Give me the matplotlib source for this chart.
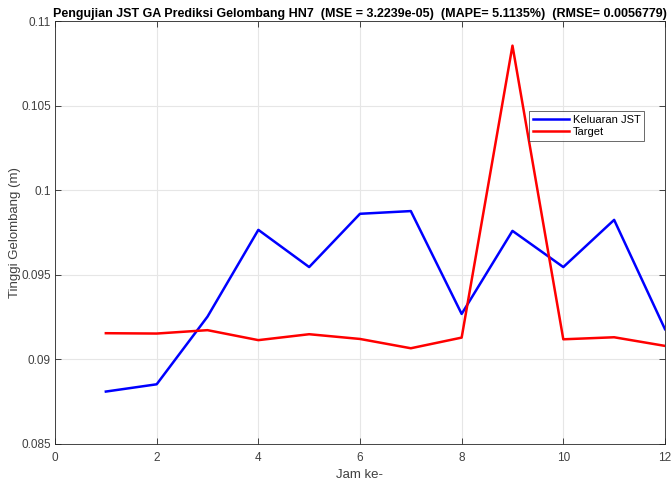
import matplotlib
matplotlib.use("Agg")
import matplotlib.pyplot as plt

plt.rcParams["font.family"] = ["Liberation Sans", "DejaVu Sans"]

jam = [1, 2, 3, 4, 5, 6, 7, 8, 9, 10, 11, 12]
keluaran_jst = [0.0881, 0.08853, 0.09253, 0.09766, 0.09546, 0.09861,
                0.09877, 0.09269, 0.0976, 0.09546, 0.09825, 0.09179]
target = [0.09155, 0.09153, 0.09173, 0.09114, 0.09149, 0.09121,
          0.09066, 0.09129, 0.10855, 0.09119, 0.09131, 0.0908]

xticks = [0, 2, 4, 6, 8, 10, 12]
yticks = [0.085, 0.09, 0.095, 0.1, 0.105, 0.11]
ytick_labels = ["0.085", "0.09", "0.095", "0.1", "0.105", "0.11"]

title = ("Pengujian JST GA Prediksi Gelombang HN7  (MSE = 3.2239e-05)  "
         "(MAPE= 5.1135%)  (RMSE= 0.0056779)")

fig = plt.figure(figsize=(6.71, 4.8), dpi=100)
ax = fig.add_axes([0.082, 0.075, 0.909, 0.881])

ax.plot(jam, keluaran_jst, color="#0000ff", linewidth=1.8, label="Keluaran JST")
ax.plot(jam, target, color="#ff0000", linewidth=1.8, label="Target")

ax.set_xlim(0, 12)
ax.set_ylim(0.085, 0.11)
ax.set_xticks(xticks)
ax.set_yticks(yticks)
ax.set_yticklabels(ytick_labels)
ax.grid(True, color="#e6e6e6", linewidth=0.8)
ax.set_axisbelow(True)

edge = "#262626"
text_col = "#404040"
for side in ax.spines.values():
    side.set_color(edge)
    side.set_linewidth(0.6)
ax.tick_params(axis="both", which="both", direction="in", length=4,
               width=0.6, colors=edge, labelcolor=text_col, labelsize=8.5,
               top=True, right=True)
ax.tick_params(axis="x", pad=6)
ax.tick_params(axis="y", pad=3)

ax.set_xlabel("Jam ke-", fontsize=9.5, color=text_col, labelpad=3)
ax.set_ylabel("Tinggi Gelombang (m)", fontsize=9.5, color=text_col)
ax.yaxis.set_label_coords(-0.056, 0.5)
ax.set_title(title, fontsize=9, fontweight="bold", pad=3)

leg = ax.legend(loc="upper right", bbox_to_anchor=(0.966, 0.787),
                fontsize=8, frameon=True, fancybox=False, borderpad=0.35,
                handlelength=3.3, handletextpad=0.3, labelspacing=0.2,
                borderaxespad=0)
leg.get_frame().set_edgecolor(edge)
leg.get_frame().set_linewidth(0.6)

fig.savefig("out.png", dpi=100)
plt.close(fig)
